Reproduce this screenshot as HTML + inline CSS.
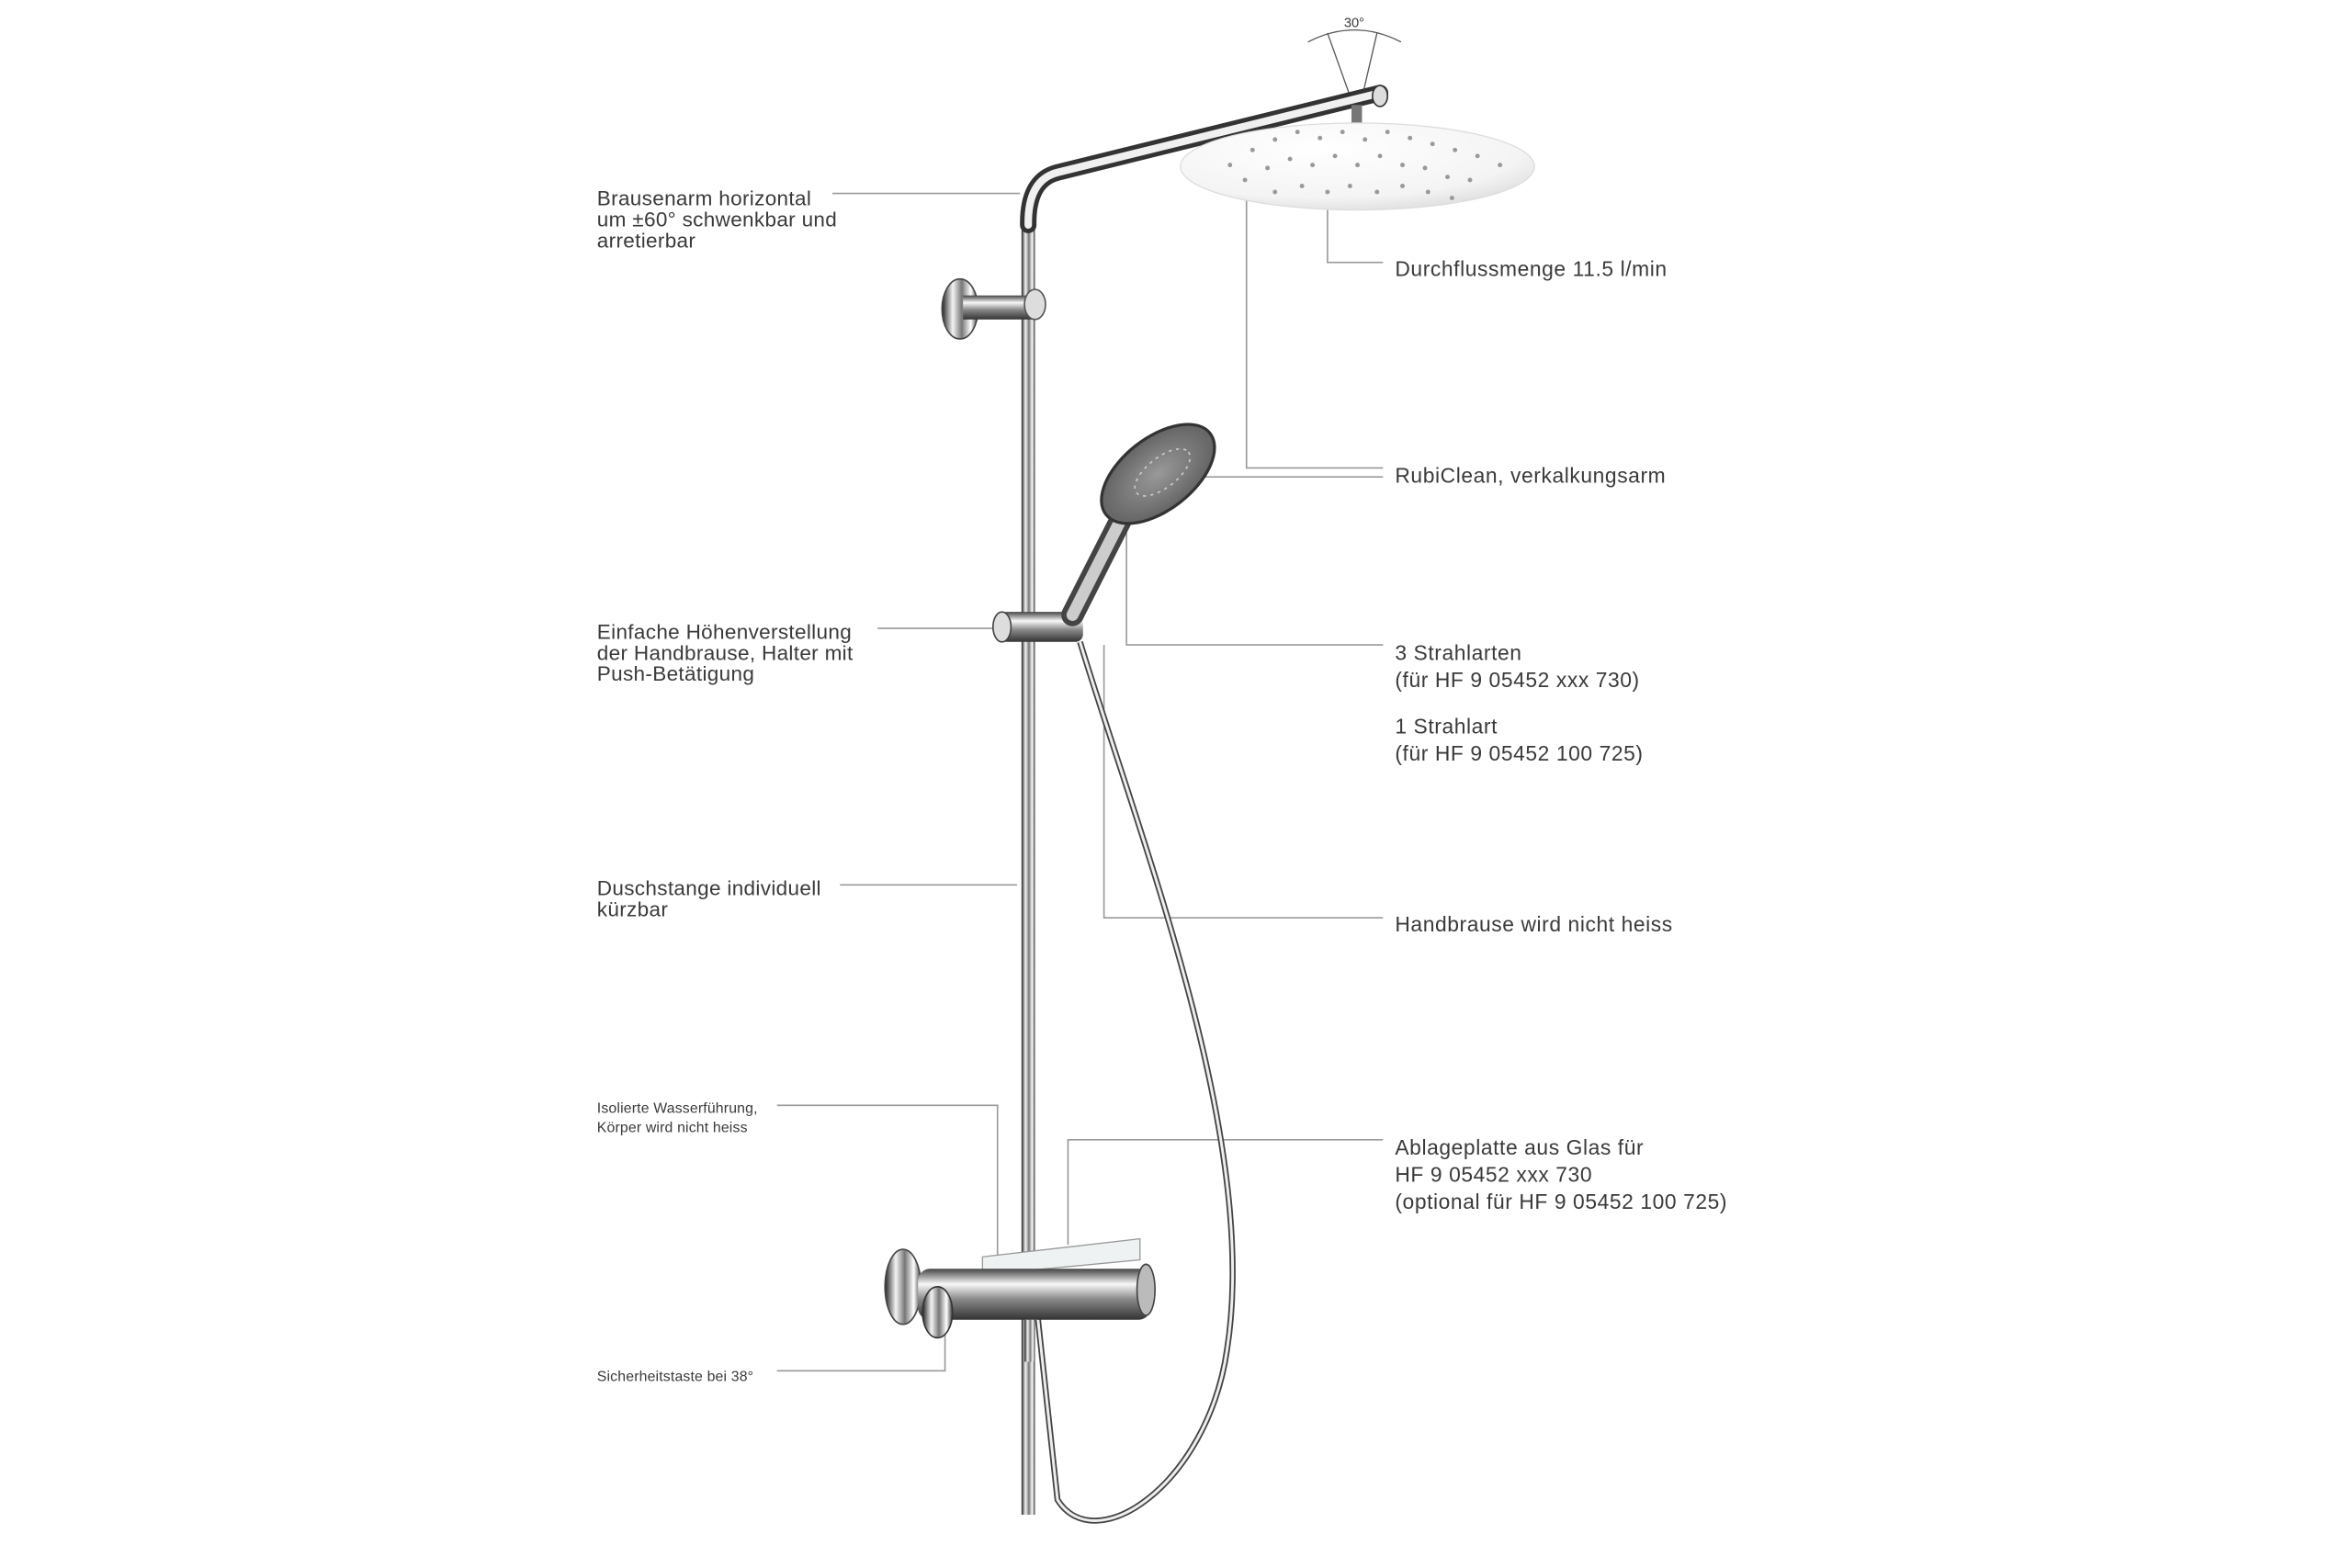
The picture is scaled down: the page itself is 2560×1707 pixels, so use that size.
<!DOCTYPE html>
<html><head><meta charset="utf-8"><style>
html,body{margin:0;padding:0;background:#fff;}
svg{display:block;}
text{font-family:"Liberation Sans",sans-serif;fill:#3a3a3a;}
</style></head><body>
<svg width="2560" height="1707" viewBox="0 0 1568 1045.5" preserveAspectRatio="none" xmlns="http://www.w3.org/2000/svg">
<defs>
<linearGradient id="pv" x1="0" x2="1" y1="0" y2="0">
<stop offset="0" stop-color="#222"/><stop offset="0.3" stop-color="#f4f4f4"/><stop offset="0.55" stop-color="#777"/><stop offset="0.8" stop-color="#fff"/><stop offset="1" stop-color="#333"/>
</linearGradient>
<linearGradient id="ph" x1="0" x2="0" y1="0" y2="1">
<stop offset="0" stop-color="#444"/><stop offset="0.3" stop-color="#f8f8f8"/><stop offset="0.6" stop-color="#888"/><stop offset="1" stop-color="#333"/>
</linearGradient>
<radialGradient id="disk" cx="0.4" cy="0.3" r="0.8">
<stop offset="0" stop-color="#fff"/><stop offset="0.7" stop-color="#f4f4f4"/><stop offset="1" stop-color="#d8d8d8"/>
</radialGradient>
<radialGradient id="hs" cx="0.5" cy="0.5" r="0.6">
<stop offset="0" stop-color="#999"/><stop offset="0.8" stop-color="#666"/><stop offset="1" stop-color="#e8e8e8"/>
</radialGradient>
</defs>

<g stroke="#9a9a9a" stroke-width="1" fill="none">
<path d="M555 129 H680"/>
<path d="M585 419 H662"/>
<path d="M560 590 H678"/>
<path d="M518 737 H665 V852"/>
<path d="M518 914 H630 V888"/>
<path d="M885 140 V175 H922"/>
<path d="M831 132 V312 H922"/>
<path d="M800 318 H922"/>
<path d="M751 355 V430 H922"/>
<path d="M736 430 V612 H922"/>
<path d="M712 830 V760 H922"/>
</g>

<g stroke="#555" stroke-width="0.8" fill="none">
<path d="M905 78 L885 22"/><path d="M905 78 L918 22"/>
<path d="M872 28 Q903 12 934 28"/>
</g>
<text x="896" y="18" font-size="9">30°</text>

<rect x="681" y="140" width="9" height="870" fill="url(#pv)"/>
<path d="M685.5 150 Q685 120 705 115 L920 62" stroke="#333" stroke-width="11" fill="none" stroke-linecap="round"/>
<path d="M685.5 150 Q685 120 705 115 L920 62" stroke="#f0f0f0" stroke-width="5" fill="none" stroke-linecap="round"/>
<ellipse cx="920" cy="64" rx="5" ry="7" fill="#ddd" stroke="#333"/>
<rect x="901" y="70" width="7" height="12" fill="#777"/>
<ellipse cx="905" cy="111" rx="118" ry="29" fill="url(#disk)" stroke="#ddd" stroke-width="0.8"/>
<g fill="#999">
<circle cx="820" cy="110" r="1.5"/><circle cx="835" cy="100" r="1.5"/><circle cx="850" cy="93" r="1.5"/><circle cx="865" cy="88" r="1.5"/><circle cx="880" cy="92" r="1.5"/><circle cx="895" cy="88" r="1.5"/><circle cx="910" cy="93" r="1.5"/><circle cx="925" cy="88" r="1.5"/><circle cx="940" cy="92" r="1.5"/><circle cx="955" cy="96" r="1.5"/><circle cx="970" cy="100" r="1.5"/><circle cx="985" cy="104" r="1.5"/><circle cx="1000" cy="110" r="1.5"/>
<circle cx="830" cy="120" r="1.5"/><circle cx="845" cy="112" r="1.5"/><circle cx="860" cy="106" r="1.5"/><circle cx="875" cy="110" r="1.5"/><circle cx="890" cy="104" r="1.5"/><circle cx="905" cy="110" r="1.5"/><circle cx="920" cy="104" r="1.5"/><circle cx="935" cy="110" r="1.5"/><circle cx="950" cy="112" r="1.5"/><circle cx="965" cy="118" r="1.5"/><circle cx="980" cy="120" r="1.5"/>
<circle cx="850" cy="128" r="1.5"/><circle cx="868" cy="124" r="1.5"/><circle cx="885" cy="128" r="1.5"/><circle cx="900" cy="124" r="1.5"/><circle cx="918" cy="128" r="1.5"/><circle cx="935" cy="124" r="1.5"/><circle cx="952" cy="128" r="1.5"/><circle cx="968" cy="132" r="1.5"/>
</g>

<ellipse cx="640" cy="206" rx="12" ry="20" fill="url(#pv)" stroke="#444"/>
<rect x="642" y="197" width="46" height="16" fill="url(#ph)"/>
<ellipse cx="690" cy="203" rx="7" ry="10" fill="#ddd" stroke="#555"/>

<rect x="666" y="408" width="56" height="20" rx="5" fill="url(#ph)"/>
<ellipse cx="668" cy="418" rx="6" ry="10" fill="#ddd" stroke="#444"/>
<path d="M715 410 L748 345" stroke="#444" stroke-width="15" stroke-linecap="round"/>
<path d="M715 410 L748 345" stroke="#ccc" stroke-width="8" stroke-linecap="round"/>
<ellipse cx="772" cy="316" rx="44" ry="24" transform="rotate(-38 772 316)" fill="url(#hs)" stroke="#333" stroke-width="2"/>
<ellipse cx="775" cy="315" rx="22" ry="10" transform="rotate(-38 775 315)" fill="none" stroke="#ccc" stroke-width="1" stroke-dasharray="2 3"/>

<path d="M720 428 C760 560 840 760 818 900 C805 990 730 1040 705 1000 L692 880" stroke="#444" stroke-width="4" fill="none"/>
<path d="M720 428 C760 560 840 760 818 900 C805 990 730 1040 705 1000 L692 880" stroke="#eee" stroke-width="1.8" fill="none"/>

<ellipse cx="602" cy="858" rx="12" ry="25" fill="url(#pv)" stroke="#444"/>
<path d="M655 838 L760 826 L760 840 L655 850 Z" fill="#eef2f2" stroke="#999" stroke-width="0.8"/>
<rect x="612" y="846" width="155" height="34" rx="8" fill="url(#ph)"/>
<ellipse cx="764" cy="860" rx="6" ry="17" fill="#bbb" stroke="#444"/>
<ellipse cx="625" cy="875" rx="10" ry="17" fill="url(#pv)" stroke="#333"/>
<rect x="683" y="880" width="7" height="28" fill="url(#pv)"/>

<g font-size="13.8" letter-spacing="0.2">
<text x="398" y="137">Brausenarm horizontal</text>
<text x="398" y="151">um ±60° schwenkbar und</text>
<text x="398" y="165">arretierbar</text>
<text x="398" y="426">Einfache Höhenverstellung</text>
<text x="398" y="440">der Handbrause, Halter mit</text>
<text x="398" y="454">Push-Betätigung</text>
<text x="398" y="597">Duschstange individuell</text>
<text x="398" y="611">kürzbar</text>
</g>
<g font-size="9.7" letter-spacing="0.1">
<text x="398" y="742">Isolierte Wasserführung,</text>
<text x="398" y="755">Körper wird nicht heiss</text>
<text x="398" y="921">Sicherheitstaste bei 38°</text>
</g>
<g font-size="14" letter-spacing="0.35">
<text x="930" y="184">Durchflussmenge 11.5 l/min</text>
<text x="930" y="322">RubiClean, verkalkungsarm</text>
<text x="930" y="440">3 Strahlarten</text>
<text x="930" y="458">(für HF 9 05452 xxx 730)</text>
<text x="930" y="489">1 Strahlart</text>
<text x="930" y="507">(für HF 9 05452 100 725)</text>
<text x="930" y="621">Handbrause wird nicht heiss</text>
<text x="930" y="770">Ablageplatte aus Glas für</text>
<text x="930" y="788">HF 9 05452 xxx 730</text>
<text x="930" y="806">(optional für HF 9 05452 100 725)</text>
</g>
</svg>
</body></html>
